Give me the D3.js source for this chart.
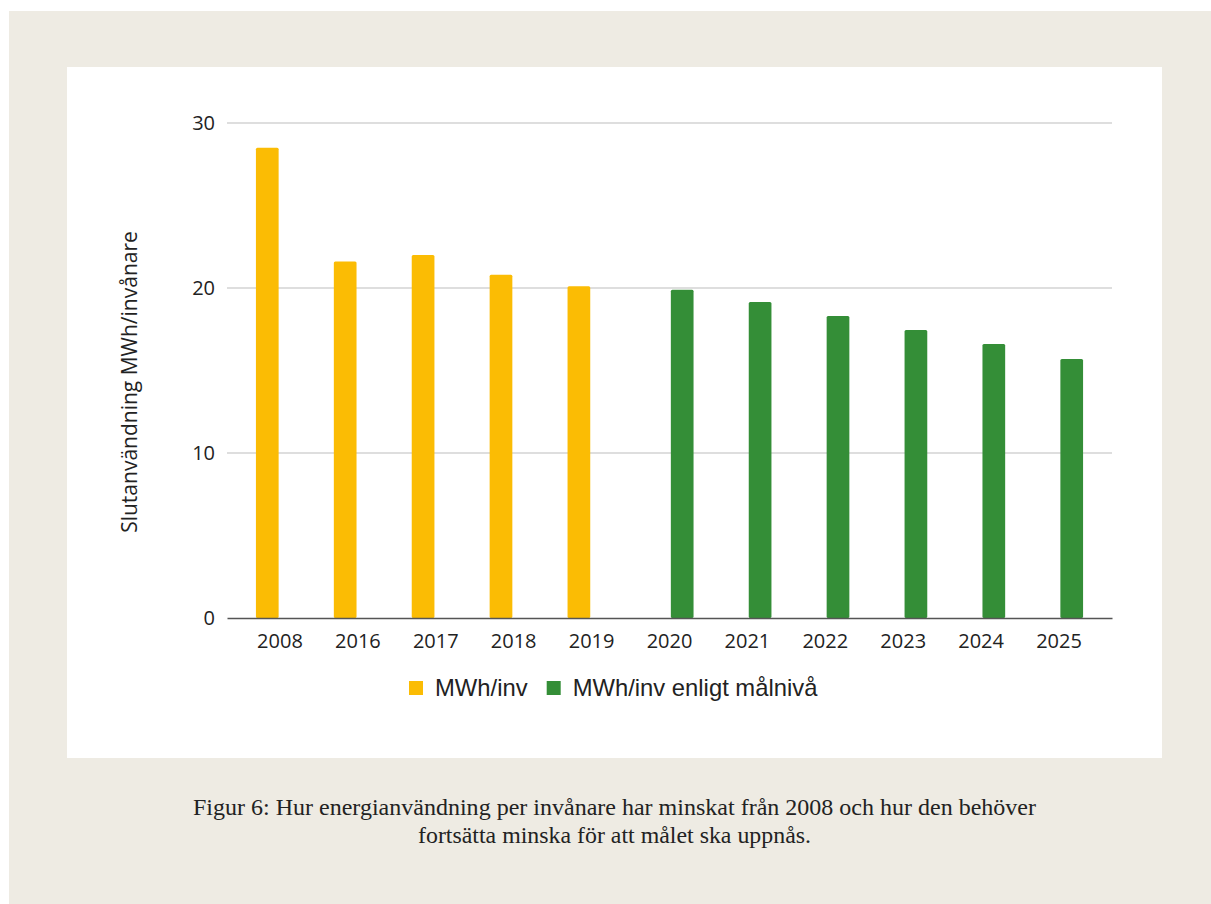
<!DOCTYPE html>
<html>
<head>
<meta charset="utf-8">
<script src="https://cdn.jsdelivr.net/npm/d3@7"></script>
<style>
  body { margin: 0; background: #fff; }
  text { fill: #222; }
</style>
</head>
<body>
<div id="chart"></div>
<script>
// data
var years = ["2008", "2016", "2017", "2018", "2019", "2020", "2021", "2022", "2023", "2024", "2025"];
var actual = [28.5, 21.6, 22.0, 20.8, 20.1, null, null, null, null, null, null];
var target = [null, null, null, null, null, 19.9, 19.15, 18.3, 17.45, 16.6, 15.7];
var seriesNames = ["MWh/inv", "MWh/inv enligt målnivå"];
var seriesColors = ["#fbbc04", "#348e37"];
var yTicks = [0, 10, 20, 30];
var yTitle = "Slutanvändning MWh/invånare";
var caption = ["Figur 6: Hur energianvändning per invånare har minskat från 2008 och hur den behöver",
               "fortsätta minska för att målet ska uppnås."];

var W = 1211, H = 904;
var svg = d3.select("#chart").append("svg")
  .attr("width", W)
  .attr("height", H);

// page background
svg.append("rect").attr("x", 9).attr("y", 11).attr("width", W - 9).attr("height", H - 11)
  .attr("fill", "#eeebe3");
svg.append("rect").attr("x", 67).attr("y", 67).attr("width", 1095).attr("height", 691)
  .attr("fill", "#fff");

var pLeft = 227, pRight = 1112, pTop = 123, pBottom = 618;

var x0 = d3.scaleBand().domain(years).range([pLeft, pRight]).paddingInner(0).paddingOuter(0.18);
var x1 = d3.scaleBand().domain([0, 1]).range([0, x0.bandwidth()]).paddingInner(0.106).paddingOuter(0.587);
var y = d3.scaleLinear().domain([0, 30]).range([pBottom, pTop]);

// gridlines
svg.append("g").selectAll("line")
  .data(yTicks.filter(function(d) { return d > 0; }))
  .enter().append("line")
  .attr("x1", pLeft).attr("x2", pRight)
  .attr("y1", function(d) { return y(d); })
  .attr("y2", function(d) { return y(d); })
  .attr("stroke", "#d3d3d3").attr("stroke-width", 1.3);

// y axis labels
var yAxis = svg.append("g")
  .attr("transform", "translate(" + pLeft + ",0)")
  .call(d3.axisLeft(y).tickValues(yTicks).tickSize(0).tickPadding(12));
yAxis.select(".domain").remove();
yAxis.selectAll("text")
  .attr("font-family", "Open Sans").attr("font-size", 20).attr("fill", "#222");

// bars
var rows = years.map(function(yr, i) { return { year: yr, vals: [actual[i], target[i]] }; });
var groups = svg.append("g").selectAll("g")
  .data(rows)
  .enter().append("g")
  .attr("transform", function(d) { return "translate(" + x0(d.year) + ",0)"; });

groups.selectAll("rect")
  .data(function(d) {
    return d.vals.map(function(v, k) { return { k: k, v: v }; })
      .filter(function(e) { return e.v != null; });
  })
  .enter().append("rect")
  .attr("x", function(d) { return x1(d.k); })
  .attr("width", x1.bandwidth())
  .attr("y", function(d) { return y(d.v); })
  .attr("height", function(d) { return pBottom - y(d.v); })
  .attr("rx", 1.5)
  .attr("fill", function(d) { return seriesColors[d.k]; });

// x axis
var xAxis = svg.append("g")
  .attr("transform", "translate(0," + pBottom + ")")
  .call(d3.axisBottom(x0).tickSize(0).tickPadding(16));
xAxis.select(".domain").attr("stroke", "#555").attr("stroke-width", 1.5);
xAxis.selectAll("text")
  .attr("font-family", "Open Sans").attr("font-size", 20).attr("fill", "#222");

// y title
svg.append("text")
  .attr("transform", "translate(137,382) rotate(-90)")
  .attr("text-anchor", "middle")
  .attr("font-family", "Open Sans").attr("font-size", 21)
  .text(yTitle);

// legend
var legendX = [409, 546.7];
var legend = svg.append("g").selectAll("g")
  .data(seriesNames)
  .enter().append("g")
  .attr("transform", function(d, i) { return "translate(" + legendX[i] + ",681)"; });
legend.append("rect")
  .attr("width", 14).attr("height", 14)
  .attr("fill", function(d, i) { return seriesColors[i]; });
legend.append("text")
  .attr("x", 26).attr("y", 14.5)
  .attr("font-family", "Liberation Sans").attr("font-size", 23.8)
  .text(function(d) { return d; });

// caption
var capWidths = [843, 393];
svg.append("g").selectAll("text")
  .data(caption)
  .enter().append("text")
  .attr("x", 614.5)
  .attr("y", function(d, i) { return 815 + i * 28; })
  .attr("text-anchor", "middle")
  .style("font-family", "'Liberation Serif'").attr("font-size", 23)
  .attr("textLength", function(d, i) { return capWidths[i]; })
  .attr("lengthAdjust", "spacingAndGlyphs")
  .text(function(d) { return d; });
</script>
</body>
</html>
